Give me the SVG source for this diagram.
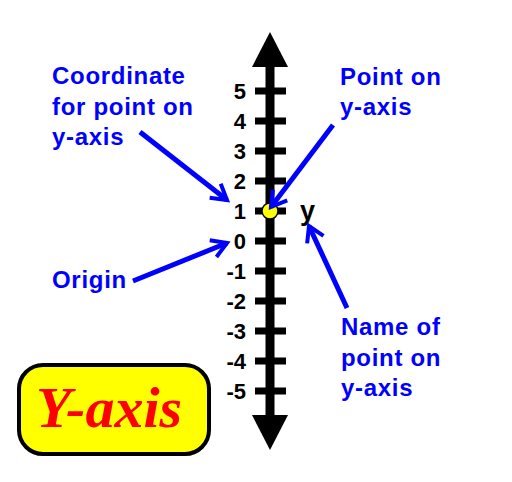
<svg xmlns="http://www.w3.org/2000/svg" width="512" height="482" viewBox="0 0 512 482">
<style>
.lbl{font-family:"Liberation Sans",Arial,sans-serif;font-weight:bold;font-size:24px;fill:#0000ff;letter-spacing:0.7px}
.num{font-family:"Liberation Sans",Arial,sans-serif;font-weight:bold;font-size:22px;fill:#000;text-anchor:end}
.tick{fill:#000}
.arr{stroke:#0000ff;stroke-width:5;fill:none;marker-end:url(#ah)}
</style>
<defs>
<marker id="ah" markerUnits="userSpaceOnUse" markerWidth="26" markerHeight="26" viewBox="-20 -13 26 26" refX="0" refY="0" orient="auto">
<path d="M-15,-9 L0,0 L-15,9" fill="none" stroke="#0000ff" stroke-width="4"/>
</marker>
</defs>
<rect width="512" height="482" fill="#fff"/>
<g id="axis">
<rect x="265.5" y="62" width="9" height="358" fill="#000"/>
<polygon points="270,32 288,67 252,67" fill="#000"/>
<polygon points="252,415 288,415 270,450" fill="#000"/>
<rect class="tick" x="255" y="87.5" width="31" height="7"/>
<rect class="tick" x="255" y="117.5" width="31" height="7"/>
<rect class="tick" x="255" y="147.5" width="31" height="7"/>
<rect class="tick" x="255" y="177.5" width="31" height="7"/>
<rect class="tick" x="255" y="207.5" width="31" height="7"/>
<rect class="tick" x="255" y="237.5" width="31" height="7"/>
<rect class="tick" x="255" y="267.5" width="31" height="7"/>
<rect class="tick" x="255" y="297.5" width="31" height="7"/>
<rect class="tick" x="255" y="327.5" width="31" height="7"/>
<rect class="tick" x="255" y="357.5" width="31" height="7"/>
<rect class="tick" x="255" y="387.5" width="31" height="7"/>
</g>
<g id="numbers">
<text class="num" x="246" y="99">5</text>
<text class="num" x="246" y="129">4</text>
<text class="num" x="246" y="159">3</text>
<text class="num" x="246" y="189">2</text>
<text class="num" x="246" y="219">1</text>
<text class="num" x="246" y="249">0</text>
<text class="num" x="246" y="279">-1</text>
<text class="num" x="246" y="309">-2</text>
<text class="num" x="246" y="339">-3</text>
<text class="num" x="246" y="369">-4</text>
<text class="num" x="246" y="399">-5</text>
</g>
<g id="point">
<circle cx="270" cy="211" r="8" fill="#ffff00" stroke="#000" stroke-width="1.5"/>
</g>
<g id="point-name">
<text x="300" y="220" font-family="Liberation Sans,Arial,sans-serif" font-weight="bold" font-size="27" fill="#000">y</text>
</g>
<g id="connectors">
<line class="arr" x1="140" y1="132" x2="227" y2="200"/>
<line class="arr" x1="333" y1="125" x2="271" y2="207"/>
<line class="arr" x1="347" y1="308" x2="309" y2="226"/>
<line class="arr" x1="133" y1="281" x2="227" y2="243"/>
</g>
<g id="label-coordinate">
<text class="lbl" x="52" y="84">Coordinate</text>
<text class="lbl" x="52" y="114.5">for point on</text>
<text class="lbl" x="52" y="145">y-axis</text>
</g>
<g id="label-point">
<text class="lbl" x="340" y="85">Point on</text>
<text class="lbl" x="340" y="115">y-axis</text>
</g>
<g id="label-name">
<text class="lbl" x="341" y="335">Name of</text>
<text class="lbl" x="341" y="365.5">point on</text>
<text class="lbl" x="341" y="396">y-axis</text>
</g>
<g id="label-origin">
<text class="lbl" x="52" y="288">Origin</text>
</g>
<g id="title">
<rect x="19" y="365" width="190" height="89" rx="24" ry="24" fill="#ffff00" stroke="#000" stroke-width="4"/>
<text x="36" y="427" font-family="Liberation Serif,'Times New Roman',serif" font-weight="bold" font-style="italic" font-size="58" fill="#ff0000">Y-axis</text>
</g>
</svg>
